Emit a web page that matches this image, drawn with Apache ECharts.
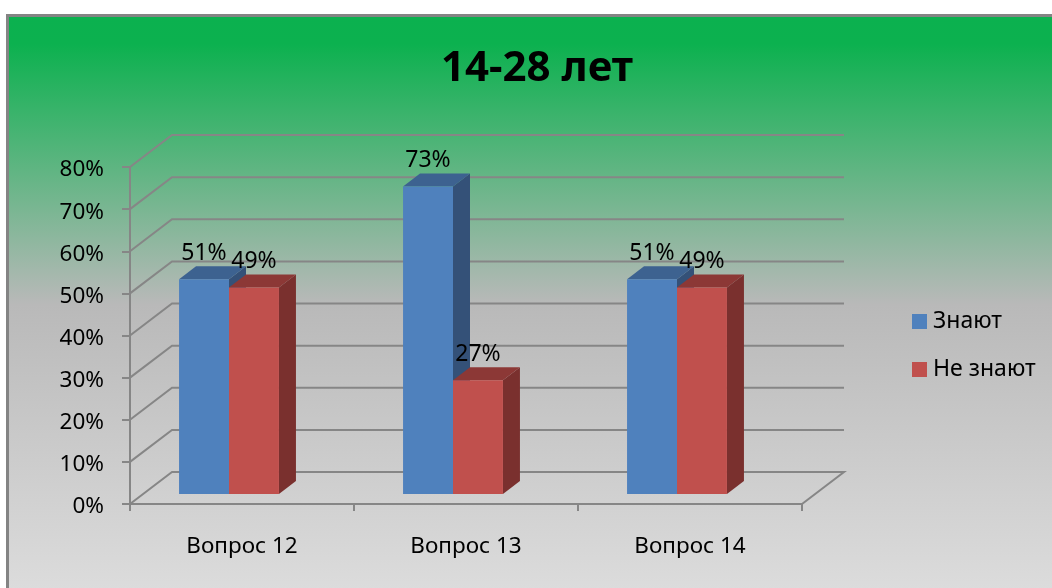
<!DOCTYPE html>
<html>
<head>
<meta charset="utf-8">
<style>
  html, body { margin: 0; padding: 0; background: #fff; }
  #chart { width: 1052px; height: 588px; }
</style>
<script src="https://cdn.jsdelivr.net/npm/echarts@6/dist/echarts.min.js"></script>
</head>
<body>
<div id="chart"></div>
<script>
const categories = ['Вопрос 12', 'Вопрос 13', 'Вопрос 14']
const know = [51, 73, 51]
const dontKnow = [49, 27, 49]
const yTicks = [0, 10, 20, 30, 40, 50, 60, 70, 80]

const font = '"Noto Sans", sans-serif'
const axisGray = '#868686'
const wallDx = 42
const wallDy = -32

const chart = echarts.init(document.getElementById('chart'))

// back wall and left wall lines, one for each tick
function renderWall(params, api) {
  const p = api.coord([0, api.value(0)])
  const left = params.coordSys.x
  const right = left + params.coordSys.width
  const y = p[1]
  const points = [[left, y], [left + wallDx, y + wallDy], [right + wallDx, y + wallDy]]
  if (api.value(0) === 0) {
    points.push([right, y])
  }
  return {
    type: 'polyline',
    shape: { points },
    style: { stroke: axisGray, lineWidth: 2, fill: null }
  }
}

// pseudo 3d bar: front, top and side faces + the value label
function makeBar(colors, side) {
  return function (params, api) {
    const cat = api.value(0)
    const val = api.value(1)
    const band = api.size([1, 0])[0]
    const w = band * 0.223
    const base = api.coord([cat, 0])
    const top = api.coord([cat, val])
    const x0 = base[0] - 13 + (side < 0 ? -w : 0)
    const x1 = x0 + w
    const yb = base[1] - 10
    const yt = top[1] - 10
    const dx = 17
    const dy = -13
    return {
      type: 'group',
      children: [
        {
          type: 'polygon',
          shape: { points: [[x1, yt], [x1 + dx, yt + dy], [x1 + dx, yb + dy], [x1, yb]] },
          style: { fill: colors.side }
        },
        {
          type: 'polygon',
          shape: { points: [[x0, yt], [x0 + dx, yt + dy], [x1 + dx, yt + dy], [x1, yt]] },
          style: { fill: colors.top }
        },
        {
          type: 'rect',
          shape: { x: x0, y: yt, width: w, height: yb - yt },
          style: { fill: colors.front }
        },
        {
          type: 'text',
          z2: 10,
          style: {
            text: val + '%',
            x: (x0 + x1) / 2,
            y: yt - 26,
            align: 'center',
            verticalAlign: 'middle',
            fill: '#000',
            font: '23px ' + font
          }
        }
      ]
    }
  }
}

const blue = { front: '#4f81bd', top: '#3d6290', side: '#345178' }
const red = { front: '#c0504d', top: '#8c3836', side: '#7a302e' }

const option = {
  animation: false,
  graphic: [
    {
      type: 'rect',
      z: -10,
      silent: true,
      shape: { x: 7.5, y: 15.5, width: 1060, height: 590 },
      style: {
        stroke: '#848484',
        lineWidth: 3,
        fill: {
          type: 'linear', x: 0, y: 0, x2: 0, y2: 1,
          colorStops: [
            { offset: 0, color: '#0bb14f' },
            { offset: 0.05, color: '#0cb14f' },
            { offset: 0.49, color: '#b9b9b9' },
            { offset: 1, color: '#dedede' }
          ]
        }
      }
    }
  ],
  title: {
    text: '14-28 лет',
    left: 532,
    top: 43,
    textAlign: 'center',
    textStyle: { fontFamily: font, fontWeight: 'bold', fontSize: 42, color: '#000' }
  },
  legend: {
    left: 907,
    top: 305,
    orient: 'vertical',
    itemWidth: 15,
    itemHeight: 15,
    itemGap: 25,
    icon: 'rect',
    textStyle: { fontFamily: font, fontSize: 23, color: '#000', padding: [0, 0, 0, 1] },
    data: ['Знают', 'Не знают']
  },
  grid: { left: 130, right: 250, top: 167, bottom: 84 },
  xAxis: {
    type: 'category',
    data: categories,
    axisLine: { lineStyle: { color: axisGray, width: 2 } },
    axisTick: { show: true, alignWithLabel: false, length: 7, lineStyle: { color: axisGray, width: 2 } },
    axisLabel: { color: '#000', fontFamily: font, fontSize: 22.5, margin: 31 }
  },
  yAxis: {
    type: 'value',
    min: 0,
    max: 80,
    interval: 10,
    axisLine: { show: true, lineStyle: { color: axisGray, width: 2 } },
    axisTick: { show: true, length: 8, lineStyle: { color: axisGray, width: 2 } },
    splitLine: { show: false },
    axisLabel: { formatter: '{value}%', color: '#000', fontFamily: font, fontSize: 22.5, margin: 26, verticalAlign: 'top', lineHeight: 6 }
  },
  series: [
    {
      type: 'custom',
      silent: true,
      z: 1,
      coordinateSystem: 'cartesian2d',
      renderItem: renderWall,
      encode: { y: 0 },
      data: yTicks.map(v => [v])
    },
    {
      name: 'Знают',
      type: 'custom',
      z: 2,
      itemStyle: { color: blue.front },
      renderItem: makeBar(blue, -1),
      encode: { x: 0, y: 1 },
      data: know.map((v, i) => [i, v])
    },
    {
      name: 'Не знают',
      type: 'custom',
      z: 3,
      itemStyle: { color: red.front },
      renderItem: makeBar(red, 1),
      encode: { x: 0, y: 1 },
      data: dontKnow.map((v, i) => [i, v])
    }
  ]
}
chart.setOption(option)
</script>
</body>
</html>
